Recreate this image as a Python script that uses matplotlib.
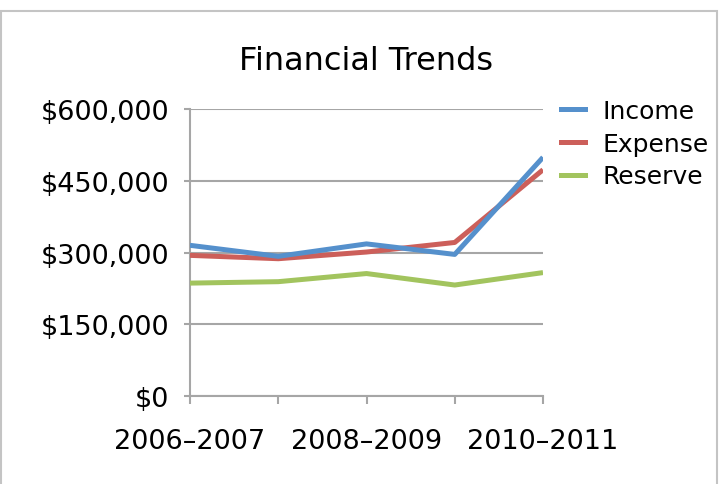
import matplotlib
matplotlib.use("Agg")
import matplotlib.pyplot as plt
from matplotlib.patches import Rectangle
from matplotlib.ticker import FuncFormatter

years = ["2006-2007", "2007-2008", "2008-2009", "2009-2010", "2010-2011"]
income = [315000, 292000, 318000, 296000, 499000]
expense = [294000, 287000, 301000, 321000, 473000]
reserve = [236000, 239000, 256000, 232000, 258000]

colors = {"Income": "#5590CC", "Expense": "#CC5F5A", "Reserve": "#A2C45E"}
grid_col = "#A6A6A6"

fig = plt.figure(figsize=(7.26, 4.85), dpi=100)
fig.patches.append(Rectangle((0.002, -0.01), 0.985, 0.985, transform=fig.transFigure,
                             fill=False, edgecolor="#C4C4C4", linewidth=1.5))

ax = fig.add_axes([190 / 726, 1 - 397 / 485, (543 - 190) / 726, (397 - 110) / 485])
x = range(len(years))
# reserve first, income on top
ax.plot(x, reserve, color=colors["Reserve"], lw=3.6, solid_capstyle="butt", zorder=3)
ax.plot(x, expense, color=colors["Expense"], lw=3.6, solid_capstyle="butt", zorder=4)
ax.plot(x, income, color=colors["Income"], lw=3.6, solid_capstyle="butt", zorder=5)

ax.set_xlim(0, 4)
ax.set_ylim(0, 600000)
ax.set_yticks([0, 150000, 300000, 450000, 600000])
ax.yaxis.set_major_formatter(FuncFormatter(lambda v, p: "${:,.0f}".format(v)))
ax.set_xticks(list(x))
ax.set_xticklabels([y.replace("-", "\u2013") if i % 2 == 0 else "" for i, y in enumerate(years)])
ax.grid(axis="y", color=grid_col, lw=1.5, zorder=1)
ax.set_axisbelow(True)
for s in ["top", "right"]:
    ax.spines[s].set_visible(False)
for s in ["left", "bottom"]:
    ax.spines[s].set_color(grid_col)
    ax.spines[s].set_linewidth(1.5)
ax.tick_params(axis="y", length=4, width=1.5, color=grid_col, pad=11, labelsize=19.5)
ax.tick_params(axis="x", length=6, width=1.5, color=grid_col, pad=17, labelsize=19.5)

fig.text(366 / 726, 1 - 61 / 485, "Financial Trends", ha="center", va="center", fontsize=23)

handles = [plt.Line2D([], [], color=colors[k], lw=3.6) for k in ["Income", "Expense", "Reserve"]]
fig.legend(handles, ["Income", "Expense", "Reserve"], loc="upper left",
           bbox_to_anchor=(561 / 726, 1 - 100 / 485), frameon=False, fontsize=18,
           handlelength=0.95, handletextpad=0.7, labelspacing=0.35, borderpad=0,
           borderaxespad=0)

fig.savefig("out.png", dpi=100)
